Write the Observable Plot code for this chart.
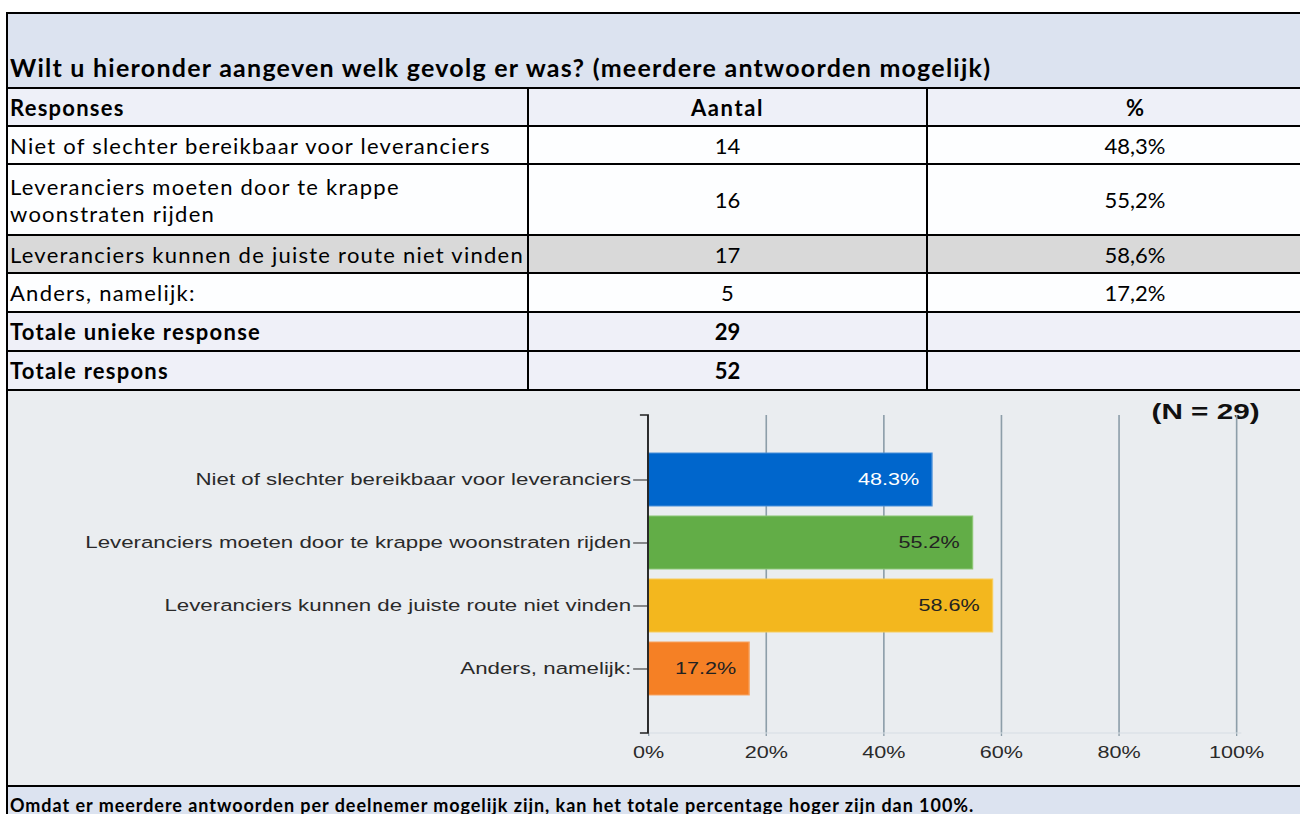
<!DOCTYPE html>
<html>
<head>
<meta charset="utf-8">
<script src="https://cdn.jsdelivr.net/npm/d3@7"></script>
<script src="https://cdn.jsdelivr.net/npm/@observablehq/plot@0.6"></script>
<style>
  html, body { margin: 0; padding: 0; background: #ffffff; width: 1300px; height: 814px; overflow: hidden; }
  #wrap { position: absolute; left: 6px; top: 12px; width: 1334px; border-left: 2px solid #000; border-top: 2px solid #000; font-family: Lato, "Open Sans", sans-serif; color: #000; }
  .row { box-sizing: border-box; border-bottom: 2px solid #000; display: flex; width: 100%; }
  .cell { box-sizing: border-box; display: flex; align-items: center; height: 100%; }
  .c1 { width: 521px; border-right: 2px solid #000; padding-left: 2px; letter-spacing: 1.25px; }
  .c2 { width: 399px; border-right: 2px solid #000; justify-content: center; }
  .c3 { flex: 1; justify-content: center; }
  .t { font-size: 22px; line-height: 27px; }
  .c2.b.hdr { letter-spacing: 1.6px; }
  .b { font-weight: bold; }
  #title { height: 75px; background: #dce3f0; align-items: flex-end; padding-left: 2px; padding-bottom: 5px; font-size: 25px; font-weight: bold; letter-spacing: 1.25px; white-space: nowrap; }
  #chart { height: 396px; background: #eaedf0; position: relative; overflow: hidden; }
  #chart svg { position: absolute; left: 0; top: 0; transform-origin: 0 0; }
  #footer { height: 40px; background: #dce3f0; border-bottom: none; padding-left: 2px; padding-top: 7px; font-size: 18px; font-weight: bold; letter-spacing: 0.95px; white-space: nowrap; }
</style>
</head>
<body>
<div id="wrap"></div>
<script>
// ---- data ----
const titleText = "Wilt u hieronder aangeven welk gevolg er was? (meerdere antwoorden mogelijk)";
const headers = ["Responses", "Aantal", "%"];
const responses = [
  "Niet of slechter bereikbaar voor leveranciers",
  "Leveranciers moeten door te krappe woonstraten rijden",
  "Leveranciers kunnen de juiste route niet vinden",
  "Anders, namelijk:"
];
const tableLabels = [
  "Niet of slechter bereikbaar voor leveranciers",
  "Leveranciers moeten door te krappe<br>woonstraten rijden",
  "Leveranciers kunnen de juiste route niet vinden",
  "Anders, namelijk:"
];
const counts = [14, 16, 17, 5];
const percents = [48.3, 55.2, 58.6, 17.2];
const totalLabels = ["Totale unieke response", "Totale respons"];
const totalValues = [29, 52];
const nLabel = "(N = 29)";
const xTicks = [0, 20, 40, 60, 80, 100];
const footerText = "Omdat er meerdere antwoorden per deelnemer mogelijk zijn, kan het totale percentage hoger zijn dan 100%.";

// ---- styles ----
const barColors = ["#0066cc", "#62ad47", "#f3b71e", "#f58025"];
const barEdges = ["#4a90d9", "#8cc675", "#f7cd5c", "#f8a362"];
const labelColors = ["#ffffff", "#222222", "#222222", "#222222"];
const rowHeights = [38, 38, 71, 38, 39, 39, 39];
const rowFills = ["#eef0f8", "#fdfeff", "#fdfeff", "#d9d9d9", "#fdfeff", "#eff0f8", "#eff0f8"];

const fmtNL = v => v.toFixed(1).replace(".", ",") + "%";

// ---- table ----
const wrap = document.getElementById("wrap");
function addRow(h, fill, cells, bold, extra) {
  const r = document.createElement("div");
  r.className = "row";
  r.style.height = h + "px";
  r.style.background = fill;
  ["c1", "c2", "c3"].forEach((c, i) => {
    const d = document.createElement("div");
    d.className = "cell t " + c + (bold ? " b" : "") + (extra ? " " + extra : "");
    d.innerHTML = cells[i];
    r.appendChild(d);
  });
  wrap.appendChild(r);
}
const title = document.createElement("div");
title.className = "row"; title.id = "title"; title.textContent = titleText;
wrap.appendChild(title);
addRow(rowHeights[0], rowFills[0], headers, true, "hdr");
tableLabels.forEach((l, i) => addRow(rowHeights[i + 1], rowFills[i + 1], [l, String(counts[i]), fmtNL(percents[i])], false));
totalLabels.forEach((l, i) => addRow(rowHeights[5 + i], rowFills[5 + i], [l, String(totalValues[i]), ""], true));

const chartDiv = document.createElement("div");
chartDiv.className = "row"; chartDiv.id = "chart";
wrap.appendChild(chartDiv);
const footer = document.createElement("div");
footer.className = "row"; footer.id = "footer"; footer.textContent = footerText;
wrap.appendChild(footer);

// ---- chart ----
const s = 1.35;          // horizontal stretch of the original chart image
const W = 1292, H = 394;
const data = responses.map((label, i) => ({label, pct: percents[i], color: barColors[i], edge: barEdges[i], lc: labelColors[i]}));

const frameMark = (index, scales, values, dims) => {
  const x0 = scales.x(0), x1 = scales.x(100);
  const top = dims.marginTop, bot = dims.height - dims.marginBottom;
  const g = d3.create("svg:g");
  g.append("path").attr("d", `M${x0},${bot}H${x1 + 4}`).attr("stroke", "#d6dde4").attr("stroke-width", 1).attr("fill", "none");
  g.append("path").attr("d", `M${x0 - 6},${top}H${x0}V${bot}H${x0 - 6}`).attr("stroke", "#222").attr("stroke-width", 1.4).attr("fill", "none");
  return g.node();
};

const chart = Plot.plot({
  width: W / s,
  height: H,
  marginLeft: 640 / s,
  marginRight: 64 / s,
  marginTop: 24,
  marginBottom: 52,
  style: {background: "transparent", fontFamily: "'Liberation Sans', Arial, sans-serif", fontSize: "16.5px", color: "#2a2a2a", overflow: "visible"},
  x: {domain: [0, 100]},
  y: {domain: responses, paddingInner: 0.165, paddingOuter: 0.6},
  color: {type: "identity"},
  marks: [
    Plot.text([nLabel], {frameAnchor: "top-right", text: d => d, dx: 17, dy: -4, lineAnchor: "middle", textAnchor: "end", fontWeight: "bold", fontSize: 22, fill: "#111"}),
    Plot.ruleX(xTicks.filter(d => d > 0), {stroke: "#8d9ea9", strokeWidth: 1.2}),
    Plot.axisX({ticks: xTicks, tickFormat: d => d + "%", tickSize: 3, tickPadding: 10, stroke: "#8d9ea9", label: null, fontSize: 16}),
    Plot.axisY({tickSize: 11, tickPadding: 2, stroke: "#222", label: null, fontSize: 16.5}),
    Plot.barX(data, {x: "pct", y: "label", fill: "color", stroke: "edge", strokeWidth: 1}),
    Plot.text(data, {x: "pct", y: "label", text: d => d.pct.toFixed(1) + "%", textAnchor: "end", dx: -10, fill: "lc", fontSize: 16}),
    frameMark
  ]
});
chart.style.transform = `scaleX(${s})`;
chartDiv.appendChild(chart);
</script>
</body>
</html>
